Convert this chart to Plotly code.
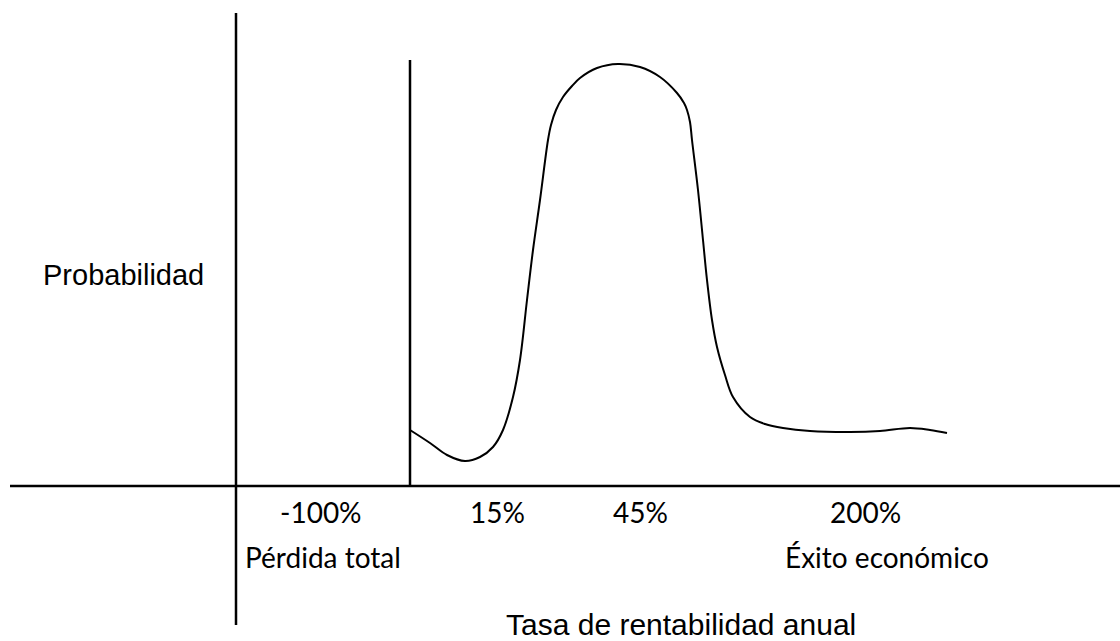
import plotly.graph_objects as go

# Sketched probability curve (x: return scale, y: probability)
curve_x = [174, 194, 211, 229, 244, 257, 267, 277, 284, 291, 297, 304, 312, 315, 320, 327,
           336, 344, 361, 382, 404, 424, 441, 448, 451, 454, 456, 462, 467, 471, 476, 481,
           489, 497, 514, 529, 547, 574, 614, 644, 674, 694, 711]
curve_y = [56, 43, 31, 25, 29, 39, 56, 89, 126, 186, 236, 286, 346, 361, 376, 389,
           400, 408, 418, 422, 419, 409, 393, 383, 376, 364, 346, 296, 246, 206, 166, 139,
           111, 89, 69, 62, 58, 55, 54, 55, 58, 56, 53]

tick_labels = ["-100%", "15%", "45%", "200%"]
tick_x = [85, 261, 404, 629]
sub_labels = ["Pérdida total", "Éxito económico"]
sub_x = [7, 547]

y_title = "Probabilidad"
x_title = "Tasa de rentabilidad anual"

fig = go.Figure()
fig.add_trace(go.Scatter(x=curve_x, y=curve_y, mode="lines",
                         line=dict(color="black", width=2, shape="spline", smoothing=1.0),
                         hoverinfo="skip", showlegend=False))

ax = dict(color="black", width=2.5)
shapes = [
    dict(type="line", xref="x", yref="y", x0=-226, x1=884, y0=0, y1=0, line=ax),
    dict(type="line", xref="x", yref="y", x0=0, x1=0, y0=473, y1=-139, line=ax),
    dict(type="line", xref="x", yref="y", x0=curve_x[0], x1=curve_x[0], y0=426, y1=0, line=ax),
]

tick_font = dict(family="Lato", size=28, color="black")
title_font = dict(family="Liberation Sans, Arial", size=29, color="black")
xtitle_font = dict(family="Liberation Sans, Arial", size=30, color="black")
annotations = []
for lab, xv in zip(tick_labels, tick_x):
    annotations.append(dict(x=xv, y=-26, xref="x", yref="y", text=lab, showarrow=False,
                            xanchor="center", yanchor="middle", font=tick_font))
for lab, xv in zip(sub_labels, sub_x):
    annotations.append(dict(x=xv, y=-71, xref="x", yref="y", text=lab, showarrow=False,
                            xanchor="left", yanchor="middle", font=tick_font))
annotations.append(dict(x=-113, y=211, xref="x", yref="y", text=y_title, showarrow=False,
                        xanchor="center", yanchor="middle", font=title_font))
annotations.append(dict(x=445, y=-138, xref="x", yref="y", text=x_title, showarrow=False,
                        xanchor="center", yanchor="middle", font=xtitle_font))

fig.update_layout(
    width=1120, height=641,
    margin=dict(l=0, r=0, t=0, b=0),
    paper_bgcolor="white", plot_bgcolor="white",
    xaxis=dict(range=[-236, 884], visible=False, fixedrange=True),
    yaxis=dict(range=[-155, 486], visible=False, fixedrange=True),
    shapes=shapes, annotations=annotations,
    showlegend=False,
)
fig.write_html("out.html", config={"displayModeBar": False},
               post_script="document.body.style.margin='0px';document.body.style.overflow='hidden';")
